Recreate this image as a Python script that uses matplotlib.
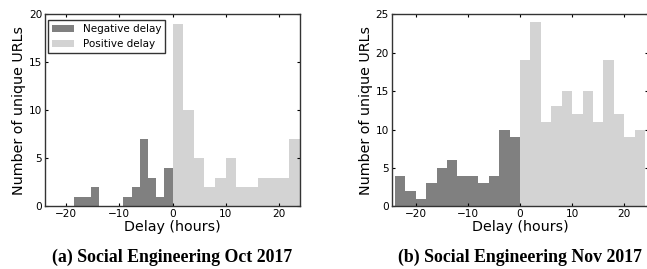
import numpy as np
import matplotlib
matplotlib.use("Agg")
import matplotlib.pyplot as plt

# ---- data ----
oct_neg_counts = [1, 1, 2, 0, 0, 0, 1, 2, 7, 3, 1, 4]
oct_neg_range = (-18.5, 0.0)
oct_pos_counts = [19, 10, 5, 2, 3, 5, 2, 2, 3, 3, 3, 7]
oct_pos_range = (0.0, 24.0)

nov_neg_counts = [4, 2, 1, 3, 5, 6, 4, 4, 3, 4, 10, 9]
nov_neg_range = (-24.0, 0.0)
nov_pos_counts = [19, 24, 11, 13, 15, 12, 15, 11, 19, 12, 9, 10]
nov_pos_range = (0.0, 24.0)

xlabel = "Delay (hours)"
ylabel = "Number of unique URLs"
captions = ["(a) Social Engineering Oct 2017", "(b) Social Engineering Nov 2017"]
legend_labels = ["Negative delay", "Positive delay"]

NEG_C = "#808080"
POS_C = "#d3d3d3"
W, H = 647, 269
fig = plt.figure(figsize=(W / 100, H / 100), dpi=100)

def px(x0, x1, ytop, ybot):
    return [x0 / W, 1 - ybot / H, (x1 - x0) / W, (ybot - ytop) / H]

ax1 = fig.add_axes(px(45, 300, 14.3, 206.3))
ax2 = fig.add_axes(px(391.7, 648.3, 14.3, 206.3))

def draw(ax, neg_counts, neg_range, pos_counts, pos_range):
    ne = np.linspace(neg_range[0], neg_range[1], len(neg_counts) + 1)
    pe = np.linspace(pos_range[0], pos_range[1], len(pos_counts) + 1)
    b1 = ax.bar(ne[:-1], neg_counts, width=np.diff(ne), align="edge",
                color=NEG_C, linewidth=0, label=legend_labels[0])
    b2 = ax.bar(pe[:-1], pos_counts, width=np.diff(pe), align="edge",
                color=POS_C, linewidth=0, label=legend_labels[1])
    for s in ax.spines.values():
        s.set_color("#333333")
        s.set_linewidth(1.0)
    ax.tick_params(direction="in", top=True, right=True, length=2.5,
                   width=0.8, labelsize=7.6, pad=2)
    ax.set_xticks([-20, -10, 0, 10, 20])
    ax.set_xlabel(xlabel, fontsize=10.3, labelpad=1)
    ax.set_ylabel(ylabel, fontsize=10.3, labelpad=2)
    return b1, b2

b1, b2 = draw(ax1, oct_neg_counts, oct_neg_range, oct_pos_counts, oct_pos_range)
ax1.set_xlim(-24, 24)
ax1.set_ylim(0, 20)
ax1.set_yticks([0, 5, 10, 15, 20])
leg = ax1.legend(loc="upper left", bbox_to_anchor=(0.013, 0.970), borderaxespad=0,
                 fontsize=7.5, handlelength=2.1, handleheight=0.7, handletextpad=0.8,
                 fancybox=False, framealpha=1, borderpad=0.4, labelspacing=0.45)
leg.get_frame().set_edgecolor("#333333")
leg.get_frame().set_linewidth(1.0)

draw(ax2, nov_neg_counts, nov_neg_range, nov_pos_counts, nov_pos_range)
ax2.set_xlim(-24.6, 24.6)
ax2.set_ylim(0, 25)
ax2.set_yticks([0, 5, 10, 15, 20, 25])

for ax, cap in zip([ax1, ax2], captions):
    pos = ax.get_position()
    fig.text((pos.x0 + pos.x1) / 2, 1 - 257.5 / H, cap, ha="center", va="center",
             fontsize=12.8, fontweight="bold", family="Liberation Serif")

fig.savefig("out.png", dpi=100)
